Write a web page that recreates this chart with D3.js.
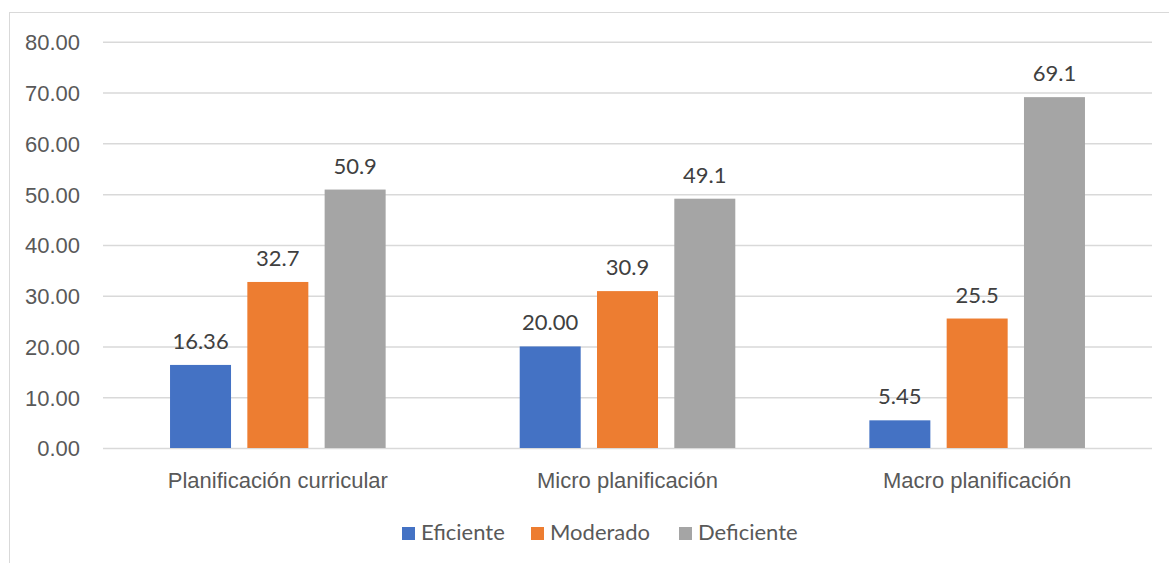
<!DOCTYPE html>
<html>
<head>
<meta charset="utf-8">
<script src="https://cdn.jsdelivr.net/npm/d3@7"></script>
<style>
  html, body { margin: 0; padding: 0; background: #fff; }
  svg { display: block; font-family: Lato, "Open Sans", sans-serif; }
</style>
</head>
<body>
<svg id="chart" width="1169" height="563"></svg>
<script>
// Grouped bar chart: planning levels by rating
const categories = ["Planificación curricular", "Micro planificación", "Macro planificación"];
const seriesNames = ["Eficiente", "Moderado", "Deficiente"];
const eficiente = [16.36, 20.00, 5.45];
const moderado = [32.7, 30.9, 25.5];
const deficiente = [50.9, 49.1, 69.1];
const labelDecimals = [2, 1, 1];
const yTicks = [0, 10, 20, 30, 40, 50, 60, 70, 80];
const colors = ["#4472C4", "#ED7D31", "#A5A5A5"];

const seriesValues = [eficiente, moderado, deficiente];
const fontSize = 22;

const svg = d3.select("#chart");

// outer chart frame
svg.append("rect")
  .attr("x", 9.5).attr("y", 12.5)
  .attr("width", 1300).attr("height", 700)
  .attr("fill", "none")
  .attr("stroke", "#d9d9d9")
  .attr("stroke-width", 1);

const plot = { left: 103, right: 1152, top: 41.8, bottom: 448 };

const x0 = d3.scaleBand()
  .domain(categories)
  .range([plot.left, plot.right])
  .paddingInner(0.3834)
  .paddingOuter(0.1917);

const x1 = d3.scaleBand()
  .domain(seriesNames)
  .range([0, x0.bandwidth()])
  .paddingInner(0.211);

const y = d3.scaleLinear()
  .domain([0, 80])
  .range([plot.bottom, plot.top]);

// gridlines + y tick labels
const yAxis = d3.axisLeft(y)
  .tickValues(yTicks)
  .tickSize(-(plot.right - plot.left))
  .tickPadding(23)
  .tickFormat(d3.format(".2f"));

const gy = svg.append("g")
  .attr("transform", `translate(${plot.left},0)`)
  .call(yAxis);
gy.select(".domain").remove();
gy.selectAll(".tick line")
  .attr("stroke", "#d9d9d9")
  .attr("stroke-width", 1.5);
gy.selectAll(".tick text")
  .attr("fill", "#595959")
  .attr("font-size", fontSize)
  .attr("dy", "0.36em");

// category axis labels
const xAxis = d3.axisBottom(x0).tickSize(0).tickPadding(24);
const gx = svg.append("g")
  .attr("transform", `translate(0,${plot.bottom})`)
  .call(xAxis);
gx.select(".domain").remove();
gx.selectAll(".tick text")
  .attr("fill", "#595959")
  .attr("font-size", fontSize);

// bars
const rows = categories.map((c, i) => ({
  category: c,
  items: seriesNames.map((s, j) => ({ series: s, value: seriesValues[j][i], idx: j }))
}));

const groups = svg.append("g").selectAll("g")
  .data(rows)
  .join("g")
  .attr("transform", d => `translate(${x0(d.category)},0)`);

groups.selectAll("rect")
  .data(d => d.items)
  .join("rect")
  .attr("x", d => x1(d.series))
  .attr("y", d => y(d.value))
  .attr("width", x1.bandwidth())
  .attr("height", d => y(0) - y(d.value))
  .attr("fill", d => colors[d.idx]);

groups.selectAll("text")
  .data(d => d.items)
  .join("text")
  .attr("x", d => x1(d.series) + x1.bandwidth() / 2)
  .attr("y", d => y(d.value) - 16)
  .attr("text-anchor", "middle")
  .attr("fill", "#404040")
  .attr("font-size", fontSize)
  .text(d => d.value.toFixed(labelDecimals[d.idx]));

// legend
const legendX = [402, 531, 679];
const legend = svg.append("g").selectAll("g")
  .data(seriesNames)
  .join("g")
  .attr("transform", (d, i) => `translate(${legendX[i]},527)`);
legend.append("rect")
  .attr("width", 13).attr("height", 13)
  .attr("fill", (d, i) => colors[i]);
legend.append("text")
  .attr("x", 19).attr("y", 12.5)
  .attr("fill", "#595959")
  .attr("font-size", fontSize)
  .text(d => d);
</script>
</body>
</html>
